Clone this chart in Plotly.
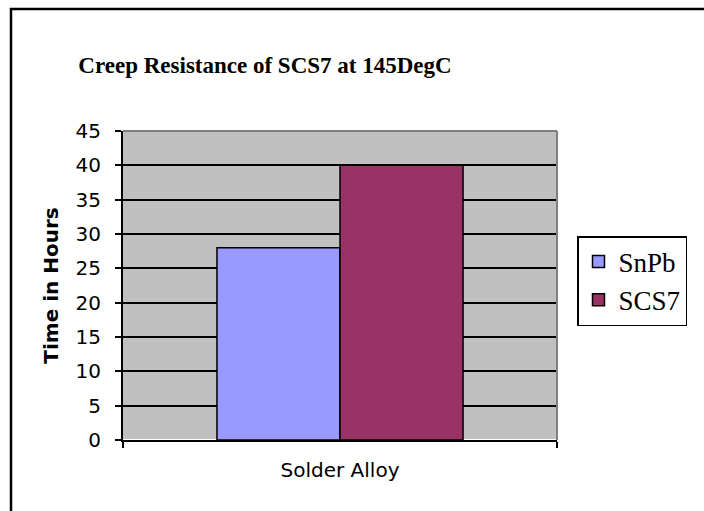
import plotly.graph_objects as go

categories = ["Solder Alloy"]
series_names = ["SnPb", "SCS7"]
snpb_values = [28]
scs7_values = [40]
colors = ["#9999FF", "#993366"]

W, H = 704, 511
L, R, T, B = 123, 147, 131, 71
pw, ph = W - L - R, H - T - B

def px_x(x):
    return (x - L) / pw

def px_y(y):
    return (H - B - y) / ph

fig = go.Figure()
for name, vals, col in zip(series_names, [snpb_values, scs7_values], colors):
    fig.add_trace(go.Bar(
        x=categories, y=vals, name=name,
        marker=dict(color=col, line=dict(color="black", width=1.5)),
    ))

fig.update_layout(
    width=W, height=H,
    margin=dict(l=L, r=R, t=T, b=B),
    paper_bgcolor="white",
    plot_bgcolor="#C0C0C0",
    barmode="group",
    bargap=0.433,
    bargroupgap=0,
    title=dict(
        text="<b>Creep Resistance of SCS7 at 145DegC</b>",
        font=dict(family="Liberation Serif", size=23, color="black"),
        x=265 / W, xanchor="center", y=1 - 65 / H, yanchor="middle",
    ),
    legend=dict(
        x=px_x(577), xanchor="left", y=px_y(281), yanchor="middle",
        font=dict(family="Liberation Serif", size=27, color="black"),
        bordercolor="black", borderwidth=1.5, bgcolor="white",
        itemwidth=30, tracegroupgap=0,
    ),
    xaxis=dict(
        showticklabels=False,
        ticks="outside", tickson="boundaries", ticklen=6, tickcolor="black", tickwidth=1.5,
        showline=True, linecolor="black", linewidth=2,
        title=dict(text="Solder Alloy", font=dict(family="DejaVu Sans", size=20, color="black"), standoff=22),
    ),
    yaxis=dict(
        range=[0, 45], dtick=5,
        ticks="outside", ticklen=6, tickcolor="black", tickwidth=1.5,
        ticklabelstandoff=10,
        showline=True, linecolor="black", linewidth=2,
        showgrid=True, gridcolor="black", gridwidth=1.5,
        tickfont=dict(family="DejaVu Sans", size=20, color="black"),
        title=dict(text="<b>Time in Hours</b>", font=dict(family="DejaVu Sans", size=20, color="black"), standoff=12),
    ),
    shapes=[
        dict(type="line", xref="paper", yref="paper", x0=0, x1=1, y0=1, y1=1,
             line=dict(color="#808080", width=2)),
        dict(type="line", xref="paper", yref="paper", x0=1, x1=1, y0=0, y1=1,
             line=dict(color="#808080", width=2)),
        dict(type="rect", xref="paper", yref="paper",
             x0=px_x(11), x1=px_x(715), y0=px_y(9), y1=px_y(530),
             line=dict(color="black", width=2.5), layer="above"),
    ],
)

fig.write_html("out.html", config={"displayModeBar": False},
               post_script="document.body.style.margin='0px';")
